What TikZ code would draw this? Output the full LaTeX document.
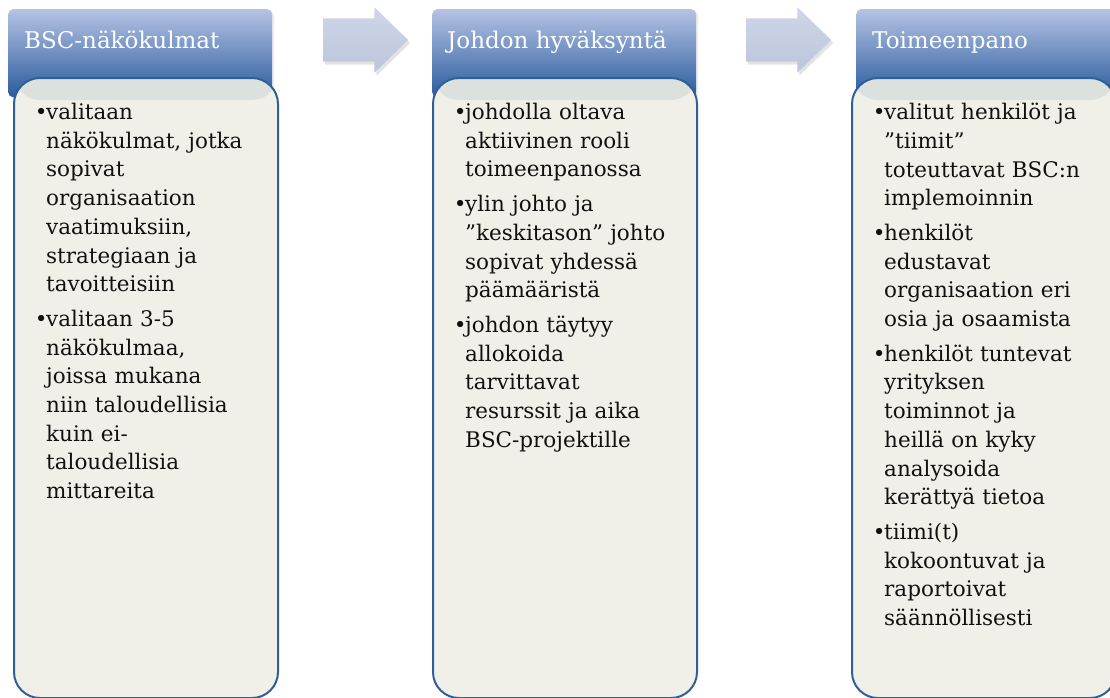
\documentclass[tikz,border=0pt]{standalone}
\usepackage{fontspec}
\setmainfont{DejaVu Serif}
\usetikzlibrary{shapes.arrows,shadows}
\definecolor{hdrtop}{HTML}{B4C3E4}
\definecolor{hdrbot}{HTML}{2A5B9D}
\definecolor{panel}{HTML}{F0F0E8}
\definecolor{panelband}{HTML}{DDE1DD}
\definecolor{panelrim}{HTML}{2E5F97}
\definecolor{arrtop}{HTML}{CFD6E8}
\definecolor{arrbot}{HTML}{BCC5DB}
\definecolor{ink}{HTML}{111111}
\newlength{\bulw}
\setlength{\bulw}{10pt}
\newcommand{\bul}{\makebox[\bulw][c]{\textbullet}}
\newcommand{\ind}{\hspace*{\bulw}}
\tikzset{
  hdrbox/.style={minimum width=264pt,minimum height=88pt,inner sep=0pt,
                 rounded corners=5pt,top color=hdrtop,bottom color=hdrbot,
                 drop shadow={opacity=0.15,shadow xshift=2pt,shadow yshift=-2pt}},
  hdrtxt/.style={anchor=base west,inner sep=0pt,text=white,
                 font=\fontsize{23}{27}\selectfont},
  panelbox/.style={minimum width=264pt,minimum height=620pt,inner sep=0pt,
                   rounded corners=26pt,fill=panel,draw=panelrim,line width=2pt,
                   path picture={\fill[panelband]
                     (path picture bounding box.north west) rectangle
                     ([yshift=-22pt]path picture bounding box.north east);}},
  paneltxt/.style={anchor=north west,inner sep=0pt,text width=245pt,align=left,
                   text=ink,font=\fontsize{21.5}{28.7}\selectfont},
  steparrow/.style={single arrow,shape border rotate=0,inner xsep=0pt,
                    inner ysep=21.5pt,minimum height=85pt,
                    single arrow head extend=11pt,single arrow tip angle=88,
                    top color=arrtop,bottom color=arrbot,
                    drop shadow={opacity=0.22,shadow xshift=2pt,shadow yshift=-3pt}}
}
\begin{document}
\begin{tikzpicture}[x=1pt,y=-1pt]
    \path[use as bounding box] (0,0) rectangle (1110,697);

    % headers
    \node[hdrbox,anchor=north west] (hdrA) at (8,9) {};
    \node[hdrbox,anchor=north west] (hdrB) at (432,9) {};
    \node[hdrbox,anchor=north west] (hdrC) at (856,9) {};

    % panels
    \node[panelbox,anchor=north west] (pnlA) at (13,77) {};
    \node[panelbox,anchor=north west] (pnlB) at (432,77) {};
    \node[panelbox,anchor=north west] (pnlC) at (851,77) {};

    \node[hdrtxt] (ttlA) at (24,48) {BSC-näkökulmat};
    \node[hdrtxt] (ttlB) at (447,48) {Johdon hyväksyntä};
    \node[hdrtxt] (ttlC) at (872,48) {Toimeenpano};

    % arrows between the steps
    \node[steparrow] (arrA) at (354.5,40) {};
    \node[steparrow] (arrB) at (777.5,40) {};

    \node[paneltxt] (txtA) at (36,103)
      {\bul valitaan\\ \ind näkökulmat, jotka\\ \ind sopivat\\
       \ind organisaation\\ \ind vaatimuksiin,\\ \ind strategiaan ja\\
       \ind tavoitteisiin\\[6pt]
       \bul valitaan 3-5\\ \ind näkökulmaa,\\ \ind joissa mukana\\
       \ind niin taloudellisia\\ \ind kuin ei-\\ \ind taloudellisia\\
       \ind mittareita};
    \node[paneltxt] (txtB) at (455,103)
      {\bul johdolla oltava\\ \ind aktiivinen rooli\\ \ind toimeenpanossa\\[6pt]
       \bul ylin johto ja\\ \ind ”keskitason” johto\\
       \ind sopivat yhdessä\\ \ind päämääristä\\[6pt]
       \bul johdon täytyy\\ \ind allokoida\\ \ind tarvittavat\\
       \ind resurssit ja aika\\ \ind BSC-projektille};
    \node[paneltxt] (txtC) at (874,103)
      {\bul valitut henkilöt ja\\ \ind ”tiimit”\\
       \ind toteuttavat BSC:n\\ \ind implemoinnin\\[6pt]
       \bul henkilöt\\ \ind edustavat\\ \ind organisaation eri\\
       \ind osia ja osaamista\\[6pt]
       \bul henkilöt tuntevat\\ \ind yrityksen\\ \ind toiminnot ja\\
       \ind heillä on kyky\\ \ind analysoida\\ \ind kerättyä tietoa\\[6pt]
       \bul tiimi(t)\\ \ind kokoontuvat ja\\ \ind raportoivat\\
       \ind säännöllisesti};
  \end{tikzpicture}
\end{document}
